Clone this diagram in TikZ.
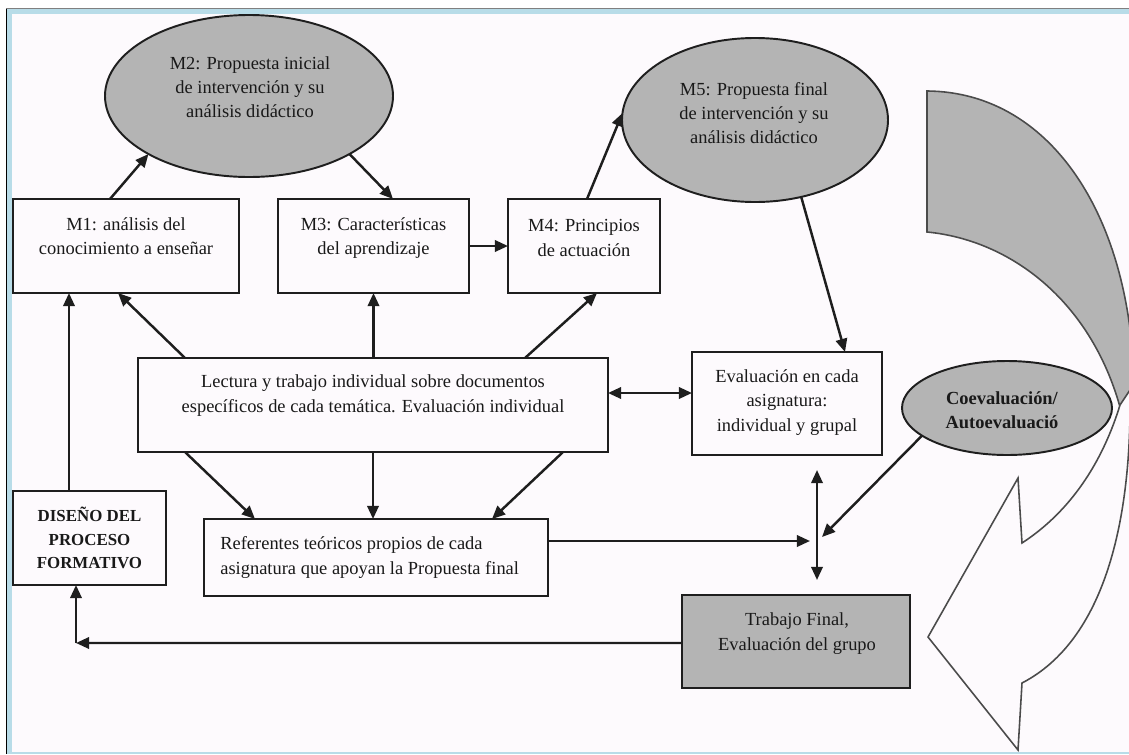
\documentclass[tikz,border=0pt]{standalone}
\usepackage{fontspec}
\setmainfont{Liberation Serif}
\usetikzlibrary{arrows.meta,shapes.geometric,calc}
\definecolor{frameblue}{RGB}{184,220,232}
\definecolor{bgpink}{RGB}{253,250,253}
\definecolor{shade}{RGB}{180,180,180}
\definecolor{ink}{RGB}{30,30,30}
\definecolor{txt}{RGB}{25,25,25}
\begin{document}
\begin{tikzpicture}[x=0.02cm,y=-0.02cm,
  sz/.style 2 args={minimum width=#1*0.02cm, minimum height=#2*0.02cm},
  box/.style={draw=ink, line width=1.1pt, rectangle, inner sep=0pt, outer sep=0pt, fill=bgpink},
  oval/.style={draw=ink, line width=1.1pt, ellipse, fill=shade, inner sep=0pt, outer sep=0pt},
  lbl/.style={text=txt, font=\fontsize{10.5}{13.8}\selectfont, align=center, inner sep=0pt},
  blbl/.style={text=txt, font=\fontsize{10.5}{13.8}\selectfont\bfseries, align=center, inner sep=0pt},
  dlbl/.style={text=txt, font=\fontsize{9.6}{13.3}\selectfont\bfseries, align=center, inner sep=0pt},
  arr/.style={draw=ink, line width=1.4pt, -{Triangle[length=7.5pt,width=6.5pt]}},
  darr/.style={draw=ink, line width=1.4pt, {Triangle[length=7.5pt,width=6.5pt]}-{Triangle[length=7.5pt,width=6.5pt]}},
  band/.style={draw=ink!80, line width=0.9pt, line join=miter}
]
\useasboundingbox (0,0) rectangle (1129,754);
% frame
\fill[white] (0,0) rectangle (1129,754);
\fill[frameblue] (6,8) rectangle (1129,754);
\fill[bgpink] (12,14) rectangle (1129,752);
\draw[black, line width=0.6pt] (6.5,8) -- (6.5,754);
\draw[gray, line width=0.6pt] (6,8.5) -- (1129,8.5);

% big curved arrow
\begin{scope}
\clip (12,14) rectangle (1129,752);
\filldraw[band, fill=shade] (927,91) .. controls (1055,92) and (1136,225) .. (1134,400)
  -- (1120,407) .. controls (1090,300) and (1010,240) .. (927,232) -- cycle;
\filldraw[band, fill=bgpink] (1130,390) .. controls (1132,520) and (1105,640) .. (1022,683)
  -- (1018,750) -- (928,637) -- (1018,478) -- (1022,543)
  .. controls (1065,515) and (1100,470) .. (1120,405) -- cycle;
\end{scope}

% ellipses
\node[oval, sz={288}{162}] (m2) at (249,96) {};
\node[lbl] (m2t) at (250,87) {M2: Propuesta inicial\\de intervención y su\\análisis didáctico};
\node[oval, sz={266}{164}] (m5) at (755,120) {};
\node[lbl] (m5t) at (754,113) {M5: Propuesta final\\de intervención y su\\análisis didáctico};
\node[oval, sz={210}{94}] (coev) at (1007,408) {};
\node[blbl] (coevt) at (1002,410) {Coevaluación/\\Autoevaluació};

% boxes
\node[box, sz={226}{94}] (m1) at (126,246) {};
\node[lbl] (m1t) at (126,236.5) {M1: análisis del\\conocimiento a enseñar};
\node[box, sz={191}{94}] (m3) at (373.5,246) {};
\node[lbl] (m3t) at (373.5,238) {M3: Características\\del aprendizaje};
\node[box, sz={152}{94}] (m4) at (584,246) {};
\node[lbl] (m4t) at (584,238) {M4: Principios\\de actuación};
\node[box, sz={470}{94}] (lec) at (373,405) {};
\node[lbl] (lect) at (373,395.5) {Lectura y trabajo individual sobre documentos\\específicos de cada temática. Evaluación individual};
\node[box, sz={190}{103}] (ev) at (787,403.5) {};
\node[lbl] (evt) at (787,402.5) {Evaluación en cada\\asignatura:\\individual y grupal};
\node[box, sz={153}{94}] (dis) at (89.5,538) {};
\node[dlbl] (dist) at (89.5,538) {DISEÑO DEL\\PROCESO\\FORMATIVO};
\node[box, sz={344}{77}] (ref) at (376,557.5) {};
\node[lbl, align=left, anchor=west] (reft) at (220,557.5) {Referentes teóricos propios de cada\\asignatura que apoyan la Propuesta final};
\node[box, fill=shade, sz={228}{93}] (tf) at (796,641.5) {};
\node[lbl] (tft) at (797,633.5) {Trabajo Final,\\Evaluación del grupo};

% free points
\coordinate (jt) at (817,470);
\coordinate (jb) at (817,580);
\coordinate (jl) at (810,541);
\coordinate (jr) at (822,537);
\coordinate (corner) at (76,643);

% connectors
\draw[arr] ($(m1.north)+(-16,0)$) -- (m2.210);
\draw[arr] (m2.330) -- ($(m3.north)+(19.5,0)$);
\draw[arr] (m3.east) -- (m4.west);
\draw[arr] ($(m4.north)+(3,0)$) -- (m5.177);
\draw[arr] (m5.301) -- ($(ev.north)+(58,0)$);
\draw[darr] ($(lec.east)+(0,-12)$) -- ($(ev.west)+(0,-10.5)$);
\draw[arr] ($(lec.north west)+(47,0)$) -- ($(m1.south west)+(105,0)$);
\draw[arr] ($(dis.north)+(-20.5,0)$) -- ($(m1.south west)+(56,0)$);
\draw[arr] (lec.north -| m3.south) -- (m3.south);
\draw[arr] ($(lec.north)+(152,0)$) -- ($(m4.south)+(13,0)$);
\draw[arr] ($(lec.south west)+(47,0)$) -- ($(ref.north west)+(51,0)$);
\draw[arr] (lec.south) -- (ref.north -| lec.south);
\draw[arr] ($(lec.south east)+(-45,0)$) -- ($(ref.north east)+(-56,0)$);
\draw[arr] (ref.east |- jl) -- (jl);
\draw[darr] (jt) -- (jb);
\draw[arr] (coev.198) -- (jr);
\draw[arr] ($(tf.west)+(0,1.5)$) -- (corner);
\draw[arr] (corner) -- (corner |- dis.south);
\end{tikzpicture}
\end{document}
